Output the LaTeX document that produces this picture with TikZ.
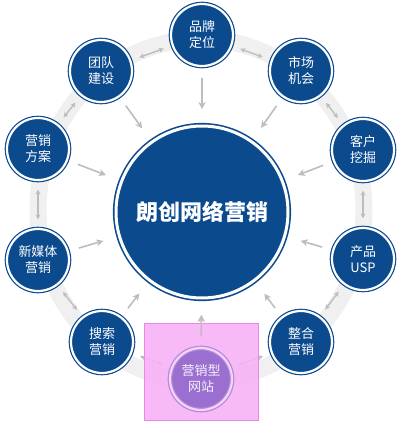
\documentclass[tikz,border=0pt]{standalone}
\usepackage{fontspec}
\newfontfamily\cjk{Noto Sans CJK SC}
\usetikzlibrary{arrows.meta}
\definecolor{navy}{HTML}{0C4A8E}
\definecolor{band}{HTML}{F0F0F0}
\definecolor{arr}{HTML}{BDBDBD}
\definecolor{pinkbox}{HTML}{F6B2F6}
\definecolor{pinkedge}{HTML}{E889E8}
\definecolor{purp}{HTML}{9A6FCF}
\tikzset{
  ball/.style={circle, minimum size=62pt, inner sep=0pt, fill=navy, draw=navy, line width=1.2pt,
    double=white, double distance=2.2pt, text=white, font=\cjk\fontsize{13}{16}\selectfont, align=center},
  hub/.style={circle, minimum size=172pt, inner sep=0pt, fill=navy, draw=navy, line width=1.6pt,
    double=white, double distance=3pt, text=white, font=\cjk\bfseries\fontsize{22}{26}\selectfont},
  radial/.style={draw=arr, line width=1.6pt, -{Stealth[length=7pt,width=7pt,inset=2pt]}, shorten <=11pt, shorten >=16pt},
  ringarr/.style={draw=arr, line width=1.4pt, {Stealth[length=5pt,width=5pt,inset=1.5pt]}-{Stealth[length=5pt,width=5pt,inset=1.5pt]}, shorten <=9pt, shorten >=9pt},
}
\begin{document}
\begin{tikzpicture}[x=1pt,y=-1pt]
\useasboundingbox (0,0) rectangle (400,426);
% band
\draw[band, line width=17pt] (201,210) ellipse [x radius=163, y radius=171];
% hub
\node[hub] (c) at (202,212) {朗创网络营销};
% satellites
\node[ball] (pp) at (202,35) {品牌\\定位};
\node[ball] (sc) at (301,71) {市场\\机会};
\node[ball] (kh) at (363,150) {客户\\挖掘};
\node[ball] (cp) at (363,259) {产品\\USP};
\node[ball] (zh) at (301,342) {整合\\营销};
\node[ball] (wz) at (201,379) {营销型\\网站};
\node[ball] (ss) at (102,342) {搜索\\营销};
\node[ball] (xm) at (38,260) {新媒体\\营销};
\node[ball] (fa) at (38,149) {营销\\方案};
\node[ball] (td) at (101,71) {团队\\建设};
% radial arrows
\foreach \n in {pp,sc,kh,cp,zh,wz,ss,xm,fa,td}
  \draw[radial] (\n) -- (c);
% ring arrows
\foreach \a/\b in {pp/sc,sc/kh,kh/cp,cp/zh,zh/wz,wz/ss,ss/xm,xm/fa,fa/td,td/pp}
  \draw[ringarr] (\a) -- (\b);
% highlight
\node[draw=pinkedge, fill=pinkbox, fill opacity=0.9, line width=1pt, minimum width=114pt, minimum height=97pt, inner sep=0pt] (hl) at (201,371.5) {};
\node[circle, minimum size=62pt, inner sep=0pt, fill=purp, draw=purp!80!white, line width=1.2pt,
    double=pinkbox!60!white, double distance=2.2pt, text=white!90!purp, font=\cjk\fontsize{13}{16}\selectfont, align=center] (wz2) at (201,379) {营销型\\网站};
\draw[radial, draw=arr!90!pinkbox] (wz2) -- (c);
\end{tikzpicture}
\end{document}
